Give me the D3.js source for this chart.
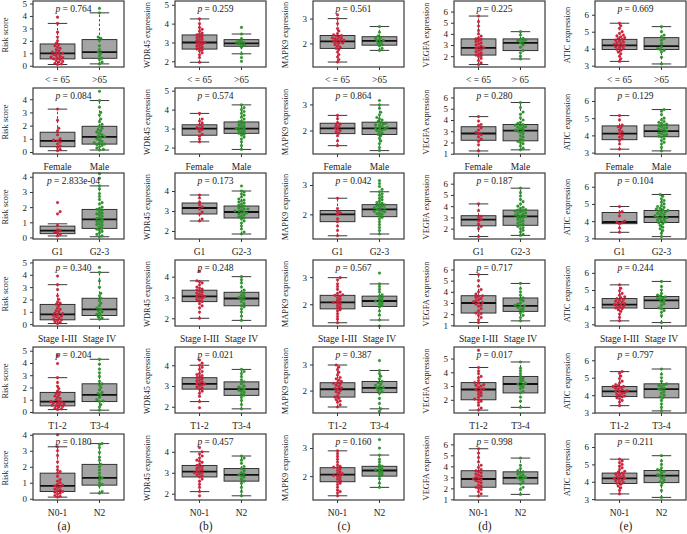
<!DOCTYPE html>
<html>
<head>
<meta charset="utf-8">
<script src="https://cdn.jsdelivr.net/npm/d3@7"></script>
<style>
  body { margin: 0; background: #fff; }
  text { font-family: "Liberation Serif", "DejaVu Serif", serif; fill: #222; }
</style>
</head>
<body>
<div id="chart"></div>
<script>
// y titles per column, panel letters
const yTitles = ["Risk score", "WDR45 expression", "MAPK9 expression", "VEGFA expression", "ATIC expression"];
const panelLetters = ["(a)", "(b)", "(c)", "(d)", "(e)"];

// group labels per row (clinical variable)
const groupLabels = [
    ["< = 65", ">65"],
    ["Female", "Male"],
    ["G1", "G2-3"],
    ["Stage I-III", "Stage IV"],
    ["T1-2", "T3-4"],
    ["N0-1", "N2"]
];
const ageLabelsByCol = [">65", ">65", ">65", "> 65", ">65"];

// p values [col][row]
const pValues = [
    ["0.764", "0.084", "2.833e-04", "0.340", "0.204", "0.180"],
    ["0.259", "0.574", "0.173", "0.248", "0.021", "0.457"],
    ["0.561", "0.864", "0.042", "0.567", "0.387", "0.160"],
    ["0.225", "0.280", "0.187", "0.717", "0.017", "0.998"],
    ["0.669", "0.129", "0.104", "0.244", "0.797", "0.211"]
];

// y domains [col][row]
const yDomains = [
    [[-0.1, 5.2], [-0.15, 4.85], [-0.1, 4.25], [-0.15, 5.2], [-0.08, 5.3], [-0.08, 4.05]],
    [[1.7, 5.2], [1.66, 5.14], [1.6, 4.9], [1.63, 4.8], [1.7, 4.88], [1.7, 4.85]],
    [[1.05, 3.71], [1.1, 3.63], [1.16, 3.41], [1.2, 3.63], [1.14, 3.67], [1.15, 3.5]],
    [[1.03, 6.95], [0.98, 6.84], [1.08, 6.95], [0.94, 6.85], [1.04, 5.84], [0.94, 6.94]],
    [[2.92, 6.81], [2.92, 6.75], [2.96, 6.8], [2.9, 6.75], [2.98, 6.76], [2.95, 6.75]]
];

// box stats [lo whisker, q1, median, q3, hi whisker] : [col][row][group]
const boxStats = [
    [
        [[0.1, 0.55, 1.0, 1.75, 3.4], [0.15, 0.6, 1.1, 2.1, 4.25]],
        [[0.1, 0.4, 0.85, 1.5, 3.25], [0.15, 0.6, 1.15, 1.95, 3.9]],
        [[0.1, 0.25, 0.45, 0.75, 0.9], [0.05, 0.6, 1.2, 1.85, 3.4]],
        [[0.05, 0.35, 0.8, 1.6, 3.2], [0.4, 0.7, 1.2, 2.1, 4.2]],
        [[0.2, 0.5, 0.85, 1.6, 2.8], [0.15, 0.85, 1.4, 2.3, 4.3]],
        [[0.1, 0.45, 0.8, 1.6, 3.25], [0.35, 0.85, 1.3, 2.15, 3.45]]
    ],
    [
        [[1.95, 2.65, 3.0, 3.4, 4.25], [2.4, 2.8, 2.95, 3.15, 3.45]],
        [[2.3, 2.65, 3.0, 3.2, 3.8], [1.9, 2.75, 3.0, 3.35, 4.25]],
        [[2.5, 2.85, 3.15, 3.4, 3.8], [1.85, 2.65, 2.95, 3.25, 4.0]],
        [[2.0, 2.8, 3.05, 3.35, 3.8], [1.9, 2.6, 2.95, 3.25, 4.0]],
        [[2.25, 2.85, 3.1, 3.4, 4.0], [1.9, 2.55, 2.85, 3.2, 3.8]],
        [[2.1, 2.8, 3.05, 3.35, 4.0], [1.9, 2.6, 2.9, 3.2, 3.8]]
    ],
    [
        [[1.25, 1.8, 2.08, 2.32, 3.0], [1.72, 1.93, 2.1, 2.27, 2.68]],
        [[1.42, 1.88, 2.08, 2.28, 2.58], [1.23, 1.85, 2.08, 2.32, 2.98]],
        [[1.27, 1.75, 2.0, 2.13, 2.55], [1.33, 1.92, 2.17, 2.33, 2.77]],
        [[1.32, 1.83, 2.07, 2.33, 2.98], [1.42, 1.92, 2.12, 2.3, 2.75]],
        [[1.37, 1.75, 2.05, 2.3, 2.98], [1.3, 1.92, 2.1, 2.35, 2.77]],
        [[1.3, 1.8, 2.05, 2.3, 2.9], [1.6, 2.0, 2.2, 2.35, 2.75]]
    ],
    [
        [[1.25, 2.1, 2.75, 3.55, 5.6], [1.75, 2.5, 3.2, 3.55, 4.2]],
        [[1.25, 2.2, 2.8, 3.4, 4.3], [1.35, 2.15, 3.05, 3.6, 5.55]],
        [[1.3, 2.25, 2.8, 3.15, 4.2], [1.4, 2.3, 3.1, 3.65, 5.6]],
        [[1.25, 2.1, 3.0, 3.65, 5.55], [1.4, 2.25, 2.75, 3.45, 4.75]],
        [[1.25, 2.0, 2.75, 3.25, 4.35], [1.45, 2.5, 3.15, 3.7, 4.75]],
        [[1.3, 2.1, 2.85, 3.6, 5.6], [1.45, 2.4, 2.95, 3.5, 4.75]]
    ],
    [
        [[3.25, 3.95, 4.2, 4.55, 5.5], [3.1, 3.95, 4.15, 4.65, 5.3]],
        [[3.2, 3.75, 4.1, 4.55, 5.15], [3.1, 3.92, 4.25, 4.6, 5.5]],
        [[3.35, 3.85, 3.95, 4.5, 4.85], [3.1, 3.92, 4.25, 4.62, 5.55]],
        [[3.2, 3.95, 4.15, 4.5, 5.3], [3.1, 3.92, 4.4, 4.62, 5.5]],
        [[3.4, 3.92, 4.22, 4.5, 5.35], [3.1, 3.85, 4.35, 4.65, 5.5]],
        [[3.3, 3.9, 4.2, 4.5, 5.3], [3.1, 3.95, 4.35, 4.65, 5.5]]
    ]
];

// sample points (estimated) : [row][group]
const riskPoints = [
    [[0.1,0.15,0.2,0.3,0.35,0.4,0.5,0.55,0.6,0.65,0.7,0.75,0.8,0.9,0.95,1.0,1.05,1.1,1.2,1.3,1.4,1.5,1.6,1.7,1.8,2.0,2.3,2.7,3.4,3.9],
     [0.15,0.3,0.5,0.6,0.8,1.0,1.1,1.3,1.6,2.0,2.2,2.3,4.25,4.6]],
    [[0.1,0.2,0.35,0.45,0.6,0.75,0.85,0.9,1.0,1.3,1.6,1.8,2.4,3.25],
     [0.15,0.2,0.3,0.4,0.5,0.55,0.6,0.65,0.7,0.8,0.9,1.0,1.1,1.15,1.2,1.3,1.4,1.5,1.6,1.7,1.8,1.95,2.1,2.3,2.5,2.8,3.0,3.4,3.9,4.6]],
    [[0.1,0.2,0.3,0.35,0.45,0.5,0.8,1.55,1.7,2.3],
     [0.05,0.1,0.2,0.3,0.4,0.5,0.55,0.6,0.7,0.8,0.85,0.9,1.0,1.05,1.1,1.2,1.25,1.3,1.4,1.5,1.55,1.6,1.7,1.8,1.85,1.9,2.0,2.2,2.3,2.5,2.7,2.9,3.2,3.4,3.9,4.2]],
    [[0.05,0.15,0.2,0.3,0.35,0.4,0.5,0.6,0.65,0.7,0.8,0.85,0.9,1.0,1.1,1.2,1.3,1.5,1.6,1.7,1.8,2.0,2.3,2.8,3.2,3.9],
     [0.4,0.5,0.6,0.7,0.8,0.9,1.0,1.1,1.2,1.3,1.5,1.7,1.9,2.1,2.3,2.5,3.0,3.5,4.2,4.6]],
    [[0.2,0.25,0.3,0.4,0.45,0.5,0.55,0.6,0.65,0.7,0.75,0.8,0.85,0.9,1.0,1.1,1.2,1.3,1.4,1.5,1.6,1.7,1.9,2.1,2.4,2.8,3.95,4.6],
     [0.15,0.4,0.6,0.85,0.9,1.0,1.2,1.4,1.5,1.6,1.8,2.0,2.2,2.3,2.5,2.9,3.2,3.5,3.9,4.3]],
    [[0.1,0.15,0.2,0.3,0.35,0.4,0.45,0.5,0.55,0.6,0.7,0.75,0.8,0.85,0.9,1.0,1.1,1.2,1.4,1.6,1.7,1.8,2.0,2.3,2.7,3.0,3.25,4.0],
     [0.35,0.45,0.8,0.9,1.0,1.2,1.3,1.4,1.6,1.8,2.0,2.15,2.4,2.6,2.9,3.2,3.4,3.45]]
];
const wdr45Points = [
    [[1.95,2.2,2.35,2.45,2.55,2.6,2.65,2.7,2.75,2.8,2.85,2.9,2.95,3.0,3.0,3.05,3.1,3.15,3.2,3.25,3.3,3.35,3.4,3.45,3.5,3.6,3.7,3.8,4.0,4.25],
     [2.0,2.2,2.4,2.75,2.85,2.9,2.95,3.0,3.0,3.05,3.1,3.2,3.45,3.8]],
    [[2.3,2.45,2.6,2.7,2.85,2.95,3.0,3.05,3.1,3.2,3.3,3.4,3.5,3.8],
     [1.9,2.1,2.3,2.45,2.55,2.65,2.7,2.75,2.8,2.85,2.9,2.95,3.0,3.0,3.05,3.1,3.15,3.2,3.25,3.3,3.35,3.4,3.5,3.6,3.7,3.8,3.9,4.0,4.1,4.25]],
    [[2.5,2.6,2.85,2.95,3.1,3.2,3.3,3.45,3.65,3.8],
     [1.85,1.95,2.1,2.25,2.4,2.5,2.6,2.65,2.7,2.75,2.8,2.85,2.9,2.9,2.95,3.0,3.0,3.05,3.1,3.1,3.15,3.2,3.25,3.3,3.35,3.4,3.45,3.5,3.55,3.6,3.7,3.8,3.85,3.95,4.0,4.25]],
    [[2.0,2.3,2.5,2.6,2.7,2.8,2.85,2.9,2.95,3.0,3.05,3.05,3.1,3.15,3.2,3.25,3.3,3.35,3.4,3.45,3.5,3.6,3.7,3.75,3.8,4.25],
     [1.9,2.1,2.3,2.45,2.55,2.6,2.7,2.8,2.9,2.95,3.0,3.05,3.1,3.2,3.25,3.35,3.5,3.7,3.85,4.0]],
    [[1.95,2.25,2.5,2.65,2.75,2.85,2.9,2.95,3.0,3.05,3.1,3.1,3.15,3.2,3.25,3.3,3.35,3.4,3.45,3.5,3.55,3.6,3.7,3.8,3.9,4.0,4.1,4.25],
     [1.9,2.1,2.3,2.45,2.55,2.6,2.7,2.75,2.8,2.85,2.9,2.95,3.0,3.1,3.2,3.3,3.45,3.6,3.7,3.8]],
    [[2.1,2.3,2.45,2.6,2.7,2.8,2.85,2.9,2.95,3.0,3.0,3.05,3.1,3.15,3.2,3.25,3.3,3.35,3.4,3.5,3.55,3.6,3.7,3.8,3.9,4.0,4.2,1.9],
     [1.9,2.1,2.3,2.5,2.6,2.7,2.8,2.85,2.9,2.95,3.0,3.1,3.2,3.3,3.45,3.6,3.7,3.8]]
];
const mapk9Points = [
    [[1.25,1.35,1.45,1.55,1.65,1.75,1.8,1.85,1.9,1.95,2.0,2.02,2.05,2.08,2.1,2.12,2.15,2.18,2.2,2.22,2.25,2.3,2.32,2.35,2.4,2.5,2.6,2.8,3.0,3.15],
     [1.72,1.8,1.9,1.95,2.0,2.05,2.1,2.12,2.15,2.2,2.25,2.3,2.45,2.68]],
    [[1.42,1.6,1.8,1.9,1.95,2.0,2.05,2.1,2.15,2.2,2.25,2.3,2.45,2.58],
     [1.23,1.35,1.5,1.6,1.7,1.8,1.85,1.9,1.95,2.0,2.02,2.05,2.08,2.1,2.12,2.15,2.2,2.22,2.25,2.28,2.3,2.35,2.4,2.45,2.5,2.6,2.7,2.85,2.98,3.15]],
    [[1.27,1.45,1.6,1.75,1.85,2.0,2.05,2.1,2.2,2.55],
     [1.33,1.45,1.55,1.65,1.75,1.85,1.9,1.95,2.0,2.02,2.05,2.08,2.1,2.12,2.15,2.18,2.2,2.22,2.25,2.28,2.3,2.32,2.35,2.38,2.4,2.45,2.5,2.55,2.6,2.65,2.7,2.77,2.85,2.95,3.05,3.15]],
    [[1.32,1.45,1.55,1.65,1.75,1.8,1.85,1.9,1.95,2.0,2.05,2.07,2.1,2.15,2.2,2.25,2.3,2.33,2.35,2.4,2.45,2.55,2.65,2.75,2.9,2.98],
     [1.2,1.42,1.6,1.75,1.9,1.95,2.0,2.05,2.1,2.12,2.15,2.2,2.25,2.3,2.35,2.45,2.55,2.65,2.75,3.15]],
    [[1.37,1.45,1.55,1.6,1.65,1.7,1.75,1.8,1.9,1.95,2.0,2.05,2.08,2.1,2.15,2.2,2.25,2.28,2.3,2.35,2.4,2.45,2.5,2.6,2.7,2.8,2.9,2.98],
     [1.2,1.3,1.5,1.7,1.9,1.95,2.0,2.05,2.1,2.12,2.15,2.2,2.25,2.3,2.35,2.45,2.55,2.65,2.77,3.15]],
    [[1.3,1.4,1.45,1.5,1.6,1.7,1.75,1.8,1.85,1.9,1.95,2.0,2.02,2.05,2.08,2.1,2.15,2.2,2.25,2.3,2.32,2.35,2.4,2.5,2.6,2.7,2.8,2.9],
     [1.6,1.75,1.9,2.0,2.05,2.1,2.15,2.2,2.22,2.25,2.3,2.35,2.4,2.5,2.6,2.75,3.0,3.3]]
];
const vegfaPoints = [
    [[1.25,1.4,1.6,1.8,1.95,2.05,2.1,2.2,2.3,2.4,2.5,2.6,2.7,2.75,2.8,2.9,3.0,3.1,3.2,3.3,3.4,3.5,3.55,3.65,3.8,4.0,4.3,4.7,5.1,5.6],
     [1.75,2.0,2.3,2.5,2.8,3.0,3.2,3.3,3.4,3.45,3.5,3.6,3.9,4.2]],
    [[1.25,1.8,2.1,2.3,2.5,2.7,2.8,2.9,3.1,3.3,3.5,3.6,3.9,4.3],
     [1.35,1.5,1.7,1.9,2.0,2.1,2.2,2.3,2.5,2.6,2.8,2.9,3.0,3.05,3.1,3.2,3.3,3.35,3.4,3.5,3.55,3.6,3.7,3.8,4.0,4.2,4.5,4.7,5.1,5.55]],
    [[1.3,2.0,2.2,2.4,2.7,2.8,3.0,3.1,3.6,4.2],
     [1.4,1.5,1.7,1.85,2.0,2.1,2.2,2.3,2.4,2.5,2.6,2.7,2.8,2.9,3.0,3.05,3.1,3.15,3.2,3.3,3.35,3.4,3.5,3.55,3.6,3.65,3.7,3.8,3.9,4.0,4.2,4.4,4.6,4.9,5.2,5.6]],
    [[1.25,1.5,1.7,1.9,2.05,2.1,2.3,2.5,2.7,2.8,2.9,3.0,3.05,3.1,3.2,3.3,3.4,3.5,3.6,3.65,3.8,4.0,4.2,4.5,5.0,5.55],
     [1.4,1.7,1.9,2.1,2.25,2.4,2.5,2.6,2.7,2.75,2.8,2.9,3.0,3.2,3.3,3.45,3.7,4.0,4.3,4.75]],
    [[1.25,1.4,1.6,1.8,1.9,2.0,2.05,2.2,2.3,2.4,2.5,2.6,2.7,2.75,2.8,2.9,3.0,3.05,3.1,3.2,3.25,3.4,3.6,3.7,3.9,4.1,4.35,5.6],
     [1.45,1.9,2.2,2.5,2.6,2.8,2.9,3.0,3.1,3.15,3.2,3.3,3.4,3.5,3.6,3.7,3.9,4.1,4.3,4.75]],
    [[1.3,1.5,1.7,1.9,2.0,2.1,2.2,2.3,2.5,2.6,2.7,2.8,2.85,2.9,3.0,3.1,3.2,3.3,3.4,3.5,3.6,3.7,3.9,4.1,4.4,4.8,5.2,5.6],
     [1.45,1.9,2.1,2.4,2.6,2.8,2.9,2.95,3.0,3.1,3.2,3.3,3.4,3.5,3.6,3.8,4.1,4.75]]
];
const aticPoints = [
    [[3.25,3.4,3.55,3.7,3.8,3.9,3.95,4.0,4.05,4.1,4.15,4.2,4.2,4.25,4.3,4.35,4.4,4.45,4.5,4.55,4.6,4.65,4.7,4.75,4.8,4.9,5.0,5.2,5.35,5.5],
     [3.1,3.5,3.8,3.9,3.95,4.0,4.1,4.3,4.5,4.6,4.7,4.8,5.0,5.3]],
    [[3.2,3.5,3.7,3.8,3.9,4.0,4.1,4.2,4.3,4.45,4.5,4.6,4.9,5.15],
     [3.1,3.3,3.5,3.6,3.7,3.8,3.9,3.95,4.0,4.05,4.1,4.15,4.2,4.25,4.3,4.35,4.4,4.45,4.5,4.55,4.6,4.65,4.7,4.75,4.8,4.9,5.0,5.2,5.4,5.5]],
    [[3.35,3.6,3.85,3.9,3.95,4.0,4.3,4.5,4.55,4.85],
     [3.1,3.3,3.45,3.55,3.65,3.75,3.85,3.9,3.95,4.0,4.05,4.1,4.15,4.2,4.22,4.25,4.3,4.35,4.4,4.45,4.5,4.55,4.6,4.62,4.65,4.7,4.75,4.8,4.85,4.9,5.0,5.1,5.2,5.3,5.45,5.55]],
    [[3.2,3.4,3.6,3.75,3.85,3.9,3.95,4.0,4.05,4.1,4.15,4.15,4.2,4.25,4.3,4.35,4.4,4.45,4.5,4.55,4.6,4.7,4.8,4.95,5.1,5.3],
     [3.1,3.5,3.7,3.8,3.9,3.95,4.1,4.2,4.3,4.4,4.45,4.5,4.55,4.6,4.65,4.7,4.8,5.0,5.2,5.5]],
    [[3.4,3.6,3.7,3.8,3.85,3.9,3.95,4.0,4.05,4.1,4.15,4.2,4.22,4.25,4.3,4.35,4.4,4.45,4.5,4.5,4.55,4.6,4.7,4.8,4.95,5.1,5.25,5.35],
     [3.1,3.3,3.5,3.7,3.85,3.9,4.0,4.1,4.2,4.3,4.35,4.4,4.5,4.55,4.6,4.65,4.8,5.0,5.2,5.5]],
    [[3.3,3.5,3.65,3.75,3.85,3.9,3.95,4.0,4.05,4.1,4.15,4.2,4.2,4.25,4.3,4.35,4.4,4.45,4.5,4.55,4.6,4.7,4.8,4.9,5.0,5.1,5.2,5.3],
     [3.1,3.5,3.8,3.95,4.0,4.1,4.2,4.3,4.35,4.4,4.5,4.6,4.65,4.7,4.8,5.0,5.2,5.5]]
];
const pointsByCol = [riskPoints, wdr45Points, mapk9Points, vegfaPoints, aticPoints];
const groupColors = ["#d7213a", "#2b9a2b"];

// layout
const width = 687, height = 534;
const colLeft = [33, 175, 313, 454, 595];
const rowTop = [1, 88, 173, 260, 347, 434];
const plotW = 91, plotH = 66;
const ptR = 1.35;

const svg = d3.select("#chart").append("svg")
    .attr("width", width)
    .attr("height", height);

// simple beeswarm: horizontal offsets so dots don't pile up
function swarm(ys, r, maxOff) {
    let placed = [];
    return ys.map(yv => {
        let best = 0, bestHits = Infinity;
        for (let k = 0; k < 40; k++) {
            let off = (k % 2 ? 1 : -1) * Math.ceil(k / 2) * 1.3;
            if (Math.abs(off) > maxOff) break;
            let hits = placed.filter(p => Math.hypot(p.x - off, p.y - yv) < 2 * r).length;
            if (hits < bestHits) { best = off; bestHits = hits; }
            if (hits === 0) break;
        }
        placed.push({x: best, y: yv});
        return best;
    });
}

yTitles.forEach((title, c) => {
    rowTop.forEach((top, r) => {
        let g = svg.append("g")
            .attr("transform", `translate(${colLeft[c]}, ${top})`);

        let labels = r === 0 ? [groupLabels[0][0], ageLabelsByCol[c]] : groupLabels[r];

        let x = d3.scaleBand()
            .domain([0, 1])
            .range([0, plotW])
            .paddingInner(0.17)
            .paddingOuter(0.17);
        let bw = x.bandwidth();

        let dom = yDomains[c][r];
        let y = d3.scaleLinear().domain(dom).range([plotH, 0]);
        let ticks = d3.range(Math.ceil(dom[0]), Math.floor(dom[1]) + 1);

        // y axis
        let ya = g.append("g")
            .call(d3.axisLeft(y).tickValues(ticks).tickSize(3).tickPadding(3).tickFormat(d3.format("d")));
        ya.select(".domain").remove();
        ya.selectAll("line").attr("stroke", "#333");
        ya.selectAll("text")
            .attr("font-family", "Liberation Serif, serif")
            .attr("font-size", 9)
            .attr("fill", "#222");

        // x axis
        let xa = g.append("g")
            .attr("transform", `translate(0, ${plotH})`)
            .call(d3.axisBottom(x).tickSize(3).tickPadding(6).tickFormat(i => labels[i]));
        xa.select(".domain").remove();
        xa.selectAll("line").attr("stroke", "#333");
        xa.selectAll("text")
            .attr("font-family", "Liberation Serif, serif")
            .attr("font-size", 9.5)
            .attr("fill", "#222");

        // boxes
        boxStats[c][r].forEach((s, gi) => {
            let cx = x(gi) + bw / 2;
            let bg = g.append("g");
            // dashed whiskers
            bg.append("line")
                .attr("x1", cx).attr("x2", cx)
                .attr("y1", y(s[3])).attr("y2", y(s[4]))
                .attr("stroke", "#222").attr("stroke-width", 0.8)
                .attr("stroke-dasharray", "2.5,2");
            bg.append("line")
                .attr("x1", cx).attr("x2", cx)
                .attr("y1", y(s[0])).attr("y2", y(s[1]))
                .attr("stroke", "#222").attr("stroke-width", 0.8)
                .attr("stroke-dasharray", "2.5,2");
            // caps
            [s[0], s[4]].forEach(v => {
                bg.append("line")
                    .attr("x1", cx - bw * 0.28).attr("x2", cx + bw * 0.28)
                    .attr("y1", y(v)).attr("y2", y(v))
                    .attr("stroke", "#222").attr("stroke-width", 0.9);
            });
            bg.append("rect")
                .attr("x", x(gi))
                .attr("y", y(s[3]))
                .attr("width", bw)
                .attr("height", y(s[1]) - y(s[3]))
                .attr("fill", "#a4a4a4")
                .attr("stroke", "#222")
                .attr("stroke-width", 0.9);
            bg.append("line")
                .attr("x1", x(gi)).attr("x2", x(gi) + bw)
                .attr("y1", y(s[2])).attr("y2", y(s[2]))
                .attr("stroke", "#111").attr("stroke-width", 1.8);
        });

        // dots
        pointsByCol[c][r].forEach((vals, gi) => {
            let cx = x(gi) + bw / 2;
            let offs = swarm(vals.map(v => y(v)), ptR, 8);
            g.append("g").selectAll("circle")
                .data(vals)
                .enter()
                .append("circle")
                .attr("cx", (d, i) => cx + offs[i])
                .attr("cy", d => y(d))
                .attr("r", ptR)
                .attr("fill", groupColors[gi])
                .attr("stroke", d3.color(groupColors[gi]).darker(0.6))
                .attr("stroke-width", 0.3);
        });

        // frame
        g.append("rect")
            .attr("width", plotW)
            .attr("height", plotH)
            .attr("fill", "none")
            .attr("stroke", "#3a3a3a")
            .attr("stroke-width", 1.2);

        // p value
        let pt = g.append("text")
            .attr("x", plotW / 2 - 5)
            .attr("y", 11)
            .attr("text-anchor", "middle")
            .attr("font-size", 9.5);
        pt.append("tspan").attr("font-style", "italic").text("p");
        pt.append("tspan").text(" = " + pValues[c][r]);

        // y title
        g.append("text")
            .attr("transform", `translate(${-28}, ${plotH / 2 + 1}) rotate(-90)`)
            .attr("text-anchor", "middle")
            .attr("dy", "0.35em")
            .attr("font-size", 8.4)
            .text(title);
    });

    // panel letter
    svg.append("text")
        .attr("x", colLeft[c] + 31)
        .attr("y", 530)
        .attr("text-anchor", "middle")
        .attr("font-size", 11.5)
        .text(panelLetters[c]);
});
</script>
</body>
</html>
